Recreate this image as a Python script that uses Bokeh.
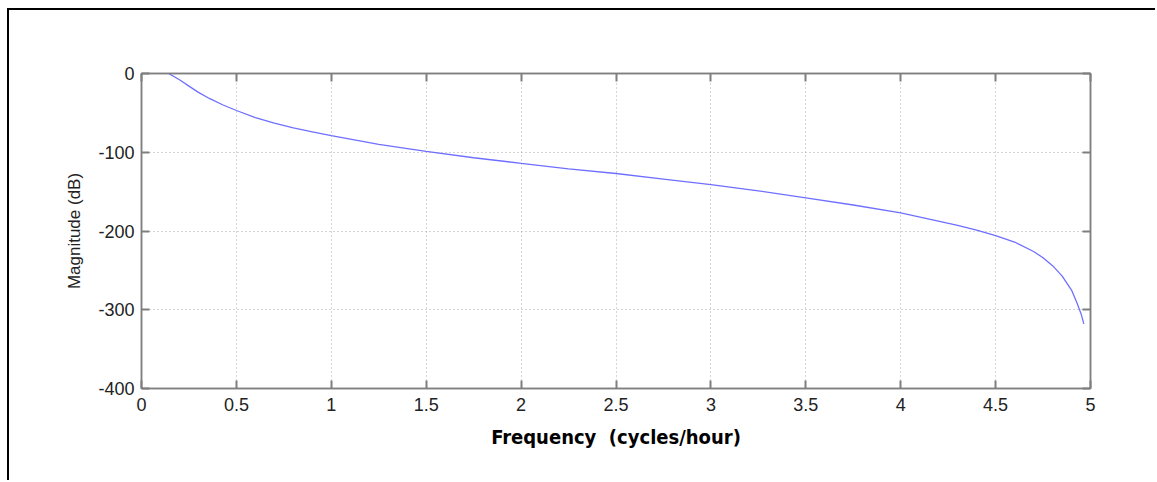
from bokeh.plotting import figure
from bokeh.models import Range1d, FixedTicker, LinearAxis
from bokeh.embed import file_html
from bokeh.resources import INLINE

# Frequency (cycles/hour) and magnitude (dB)
freq = [0.143, 0.2, 0.25, 0.3, 0.36, 0.43, 0.5, 0.6, 0.7, 0.8, 0.9, 1.0,
        1.25, 1.5, 1.75, 2.0, 2.25, 2.5, 2.75, 3.0, 3.25, 3.5, 3.75, 4.0,
        4.15, 4.3, 4.4, 4.5, 4.6, 4.7, 4.75, 4.8, 4.85, 4.9, 4.93, 4.95, 4.965]
mag = [0, -8, -16, -24, -32, -40, -47, -56, -63, -69, -74, -79,
       -90, -99, -107, -114, -121, -127, -134, -141, -149, -158, -167, -177,
       -185, -193, -199, -206, -214, -226, -234, -244, -257, -275, -292, -305, -318]

x_ticks = [0, 0.5, 1, 1.5, 2, 2.5, 3, 3.5, 4, 4.5, 5]
x_tick_labels = ["0", "0.5", "1", "1.5", "2", "2.5", "3", "3.5", "4", "4.5", "5"]
y_ticks = [-400, -300, -200, -100, 0]
y_tick_labels = ["-400", "-300", "-200", "-100", "0"]

x_label = "Frequency\u00a0 (cycles/hour)"
y_label = "Magnitude (dB)"

AX = "#7f7f7f"
FONT = "Liberation Sans"

p = figure(width=1148, height=472, output_backend="svg", toolbar_location=None,
           x_range=Range1d(0, 5), y_range=Range1d(-400, 0),
           min_border_left=132, min_border_right=67, min_border_top=63, min_border_bottom=94,
           outline_line_color=AX, outline_line_width=1.5,
           styles={"border-top": "2px solid black", "border-left": "2px solid black",
                   "margin-left": "7px", "margin-top": "8px"})

xt = FixedTicker(ticks=x_ticks)
yt = FixedTicker(ticks=y_ticks)
xo = {float(t): l for t, l in zip(x_ticks, x_tick_labels)}
yo = {float(t): l for t, l in zip(y_ticks, y_tick_labels)}

for ax in p.xaxis:
    ax.ticker = xt
    ax.major_label_overrides = xo
    ax.major_label_standoff = 9
for ax in p.yaxis:
    ax.ticker = yt
    ax.major_label_overrides = yo
    ax.major_label_standoff = 7

for ax in list(p.xaxis) + list(p.yaxis):
    ax.axis_line_color = AX
    ax.axis_line_width = 1.5
    ax.major_tick_line_color = AX
    ax.major_tick_line_width = 2
    ax.major_tick_in = 8
    ax.major_tick_out = 0
    ax.minor_tick_line_color = None
    ax.major_label_text_font = FONT
    ax.major_label_text_font_size = "18px"
    ax.major_label_text_color = "#222222"

p.xaxis.axis_label = x_label
p.xaxis.axis_label_text_font = "Liberation Sans Narrow, Arial Narrow, DejaVu Sans Condensed, Liberation Sans"
p.xaxis.axis_label_text_font_style = "bold"
p.xaxis.axis_label_text_font_size = "20px"
p.xaxis.axis_label_text_color = "#000000"
p.xaxis.axis_label_standoff = 11

p.yaxis.axis_label = y_label
p.yaxis.axis_label_text_font = FONT
p.yaxis.axis_label_text_font_style = "normal"
p.yaxis.axis_label_text_font_size = "17px"
p.yaxis.axis_label_text_color = "#222222"
p.yaxis.axis_label_standoff = 11

# mirror axes (ticks only) on top and right, MATLAB box style
for loc, tk, ticks in (("above", xt, x_ticks), ("right", yt, y_ticks)):
    a = LinearAxis(ticker=tk, major_label_overrides={float(t): "" for t in ticks},
                   axis_line_color=AX, axis_line_width=1.5,
                   major_tick_line_color=AX, major_tick_line_width=2,
                   major_tick_in=8, major_tick_out=0, minor_tick_line_color=None)
    p.add_layout(a, loc)

p.xgrid.ticker = xt
p.ygrid.ticker = yt
for g in (p.xgrid, p.ygrid):
    g.grid_line_color = "#aaaaaa"
    g.grid_line_dash = "1 3"
    g.grid_line_width = 1

p.line(freq, mag, line_color="#6f6fff", line_width=1.3)

open("out.html", "w").write(file_html(p, INLINE))
